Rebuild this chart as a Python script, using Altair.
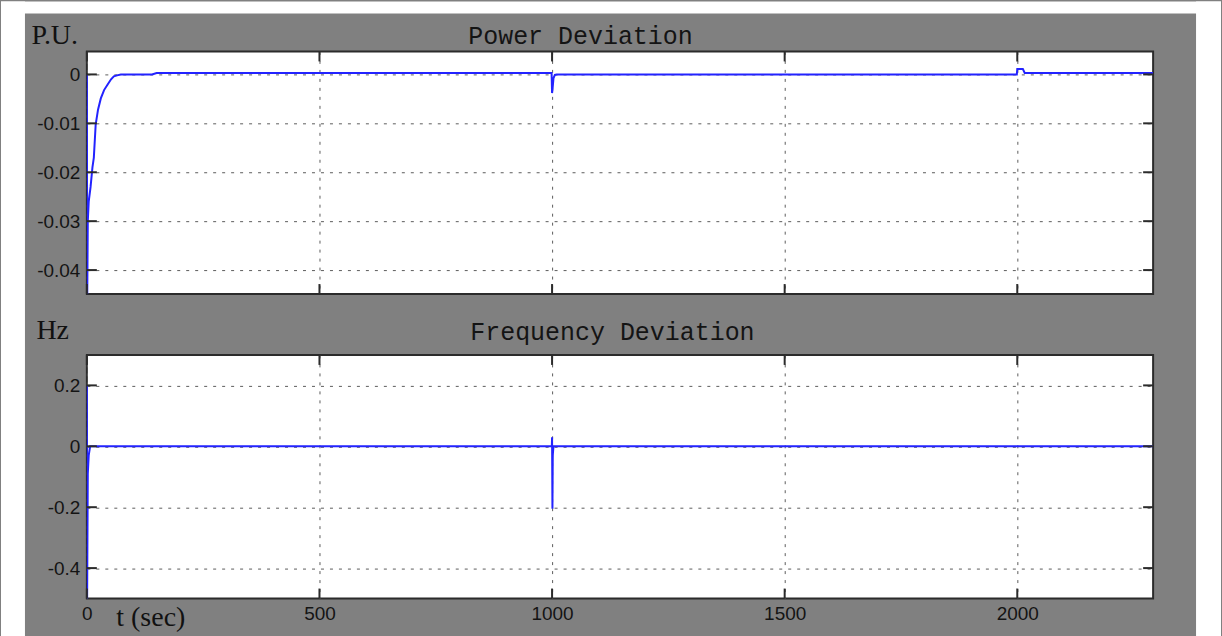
import altair as alt
import pandas as pd

# ---- time axis -------------------------------------------------------------
T_END = 2292
x_ticks = [0, 500, 1000, 1500, 2000]

# ---- power deviation (P.U.) -----------------------------------------------
power_t = [0, 0.8, 2, 4, 8, 12, 15, 19, 24, 30, 37, 45, 52, 58, 65, 73,
           140, 150, 165, 999, 1000, 1001, 1003, 1006, 1010,
           1999, 2000, 2012, 2016, T_END]
power_v = [0.0, -0.046, -0.030, -0.026, -0.023, -0.019, -0.017, -0.0102,
           -0.0072, -0.0049, -0.0032, -0.002, -0.001, -0.0004, -0.0002, 0.0,
           0.0, 0.0003, 0.0003, 0.0003, -0.0038, -0.0030, -0.0008, -0.0001, 0.0,
           0.0, 0.0011, 0.0011, 0.0003, 0.0003]
power_ticks = [0, -0.01, -0.02, -0.03, -0.04]
power_domain = [-0.0449, 0.0047]

# ---- frequency deviation (Hz) ---------------------------------------------
freq_t = [0, 0.5, 2, 4, 7, 999.5, 1000, 1000.8, 1001.5, 1003, T_END]
freq_v = [0.2, -0.52, -0.09, -0.03, 0.0, 0.0, 0.03, -0.205, -0.03, 0.0, 0.0]
freq_ticks = [0.2, 0, -0.2, -0.4]
freq_domain = [-0.5, 0.3]

# ---- styling ---------------------------------------------------------------
W = 1068
LINE_COLOR = "#2323ff"
INK = "#141414"
FRAME = "#2b2b2b"
LABEL_FONT = "Liberation Sans"
TITLE_FONT = "Liberation Mono"
SERIF = "Liberation Serif"
TICK_LEN = 10


def panel(t, v, yticks, ydomain, yfmt, height, title, title_dx, title_y,
          ytitle, ytitle_x, ytitle_y, bottom_labels, page_margins):
    x_scale = alt.Scale(domain=[0, T_END], nice=False, zero=False)
    y_scale = alt.Scale(domain=ydomain, nice=False, zero=False)
    df = pd.DataFrame({"t": t, "v": v})
    one = alt.Data(values=[{"k": 1}])

    x_axis_kw = dict(
        values=x_ticks, format="d", grid=True, gridDash=[3, 6],
        gridColor="#5c5c5c", gridWidth=1, ticks=False, tickSize=0,
        domain=False, labelFlush=False, labelOverlap=False,
    )
    if bottom_labels:
        x_axis = alt.Axis(
            labels=True, labelFont=LABEL_FONT, labelFontSize=19,
            labelColor=INK, labelPadding=6,
            title="t (sec)", titleX=29, titleY=27, titleAlign="left",
            titleBaseline="alphabetic", titleAngle=0, titleFont=SERIF,
            titleFontSize=28, titleFontWeight="normal", titleColor="#111111",
            **x_axis_kw)
    else:
        x_axis = alt.Axis(labels=False, title="", **x_axis_kw)

    y_axis = alt.Axis(
        values=yticks, format=yfmt,
        labelExpr="replace(datum.label, '\u2212', '-')",
        grid=True, gridDash=[3, 6], gridColor="#5c5c5c", gridWidth=1,
        ticks=False, tickSize=0, domain=False, labelFlush=False,
        labelOverlap=False, labelFont=LABEL_FONT, labelFontSize=19,
        labelColor=INK, labelPadding=7,
        title=ytitle, titleX=ytitle_x, titleY=ytitle_y, titleAngle=0,
        titleAlign="left", titleBaseline="alphabetic", titleFont=SERIF,
        titleFontSize=28, titleFontWeight="normal", titleColor="#111111",
    )

    # every layer carries the same axis definition so the shared axes merge
    x_enc = alt.X("t:Q", scale=x_scale, axis=x_axis)
    y_enc = alt.Y("v:Q", scale=y_scale, axis=y_axis)

    line = alt.Chart(df).mark_line(
        color=LINE_COLOR, strokeWidth=2, clip=True
    ).encode(x=x_enc, y=y_enc)

    ytdf = pd.DataFrame({"v": yticks})
    xtdf = pd.DataFrame({"t": x_ticks})
    rule = dict(color=FRAME, strokeWidth=2)
    ticks = [
        alt.Chart(ytdf).mark_rule(**rule).encode(
            y=y_enc, x=alt.value(0), x2=alt.value(TICK_LEN)),
        alt.Chart(ytdf).mark_rule(**rule).encode(
            y=y_enc, x=alt.value(W - TICK_LEN), x2=alt.value(W)),
        alt.Chart(xtdf).mark_rule(**rule).encode(
            x=x_enc, y=alt.value(height - TICK_LEN), y2=alt.value(height)),
        alt.Chart(xtdf).mark_rule(**rule).encode(
            x=x_enc, y=alt.value(0), y2=alt.value(TICK_LEN)),
    ]

    heading = alt.Chart(one).mark_text(
        text=title, align="left", baseline="alphabetic", font=TITLE_FONT,
        fontSize=25, color=INK,
    ).encode(x=alt.value(title_dx), y=alt.value(title_y))

    layers = []
    if page_margins:
        # white page border around the grey figure window
        white = dict(color="white", strokeWidth=0)
        layers += [
            alt.Chart(one).mark_rect(**white).encode(
                x=alt.value(-86), x2=alt.value(-62),
                y=alt.value(-50), y2=alt.value(586)),
            alt.Chart(one).mark_rect(**white).encode(
                x=alt.value(-86), x2=alt.value(1136),
                y=alt.value(-50), y2=alt.value(-38)),
            alt.Chart(one).mark_rect(**white).encode(
                x=alt.value(1111), x2=alt.value(1136),
                y=alt.value(-50), y2=alt.value(586)),
        ]
    layers += [line] + ticks + [heading]

    return alt.layer(*layers).properties(width=W, height=height)


top = panel(power_t, power_v, power_ticks, power_domain, ".2~f", 243,
            "Power Deviation", 382, -7, "P.U.", -56, -8, False, True)
bottom = panel(freq_t, freq_v, freq_ticks, freq_domain, ".1~f", 244,
               "Frequency Deviation", 384, -15, "Hz", -51, -16, True, False)

chart = alt.vconcat(top, bottom, spacing=61, bounds="flush").properties(
    padding=0, background="#808080"
).configure_view(fill="white", stroke=FRAME, strokeWidth=2)

chart.save("out.html", embed_options={"renderer": "svg", "actions": False})
